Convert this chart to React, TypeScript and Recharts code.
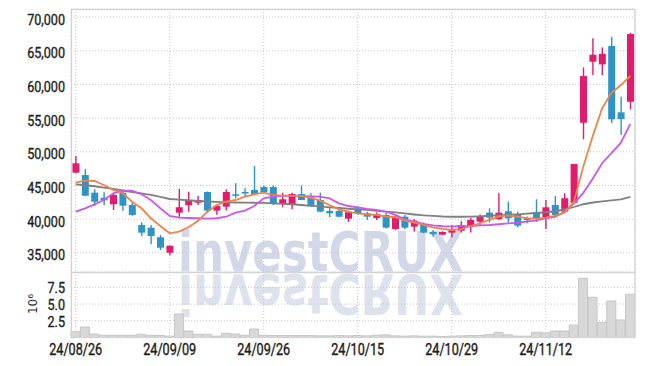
import { ComposedChart, BarChart, Bar, Line, XAxis, YAxis, CartesianGrid } from 'recharts'

// trading days (yy/mm/dd)
const dates = [
  '24/08/26', '24/08/27', '24/08/28', '24/08/29', '24/08/30', '24/09/02', '24/09/03', '24/09/04', '24/09/05', '24/09/06',
  '24/09/09', '24/09/10', '24/09/11', '24/09/12', '24/09/13', '24/09/19', '24/09/20', '24/09/23', '24/09/24', '24/09/25',
  '24/09/26', '24/09/27', '24/09/30', '24/10/02', '24/10/04', '24/10/07', '24/10/08', '24/10/10', '24/10/11', '24/10/14',
  '24/10/15', '24/10/16', '24/10/17', '24/10/18', '24/10/21', '24/10/22', '24/10/23', '24/10/24', '24/10/25', '24/10/28',
  '24/10/29', '24/10/30', '24/10/31', '24/11/01', '24/11/04', '24/11/05', '24/11/06', '24/11/07', '24/11/08', '24/11/11',
  '24/11/12', '24/11/13', '24/11/14', '24/11/15', '24/11/18', '24/11/19', '24/11/20', '24/11/21', '24/11/22', '24/11/25',
]

const opens = [
  46900, 46550, 43930, 43180, 42200, 43930, 42100, 39130, 38730, 37310,
  35020, 40960, 42060, 42440, 44030, 41260, 41850, 43690, 44030, 44330,
  44770, 44770, 42230, 42100, 43730, 43240, 42840, 41210, 41210, 40070,
  41610, 40870, 40170, 40620, 38540, 40360, 38880, 39130, 38090, 37700,
  37990, 38290, 38880, 39620, 40960, 39980, 41170, 40720, 40100, 41060,
  40220, 42100, 41110, 42440, 54310, 63370, 62980, 65700, 55860, 57430,
]
const highs = [
  49370, 47400, 44430, 43990, 43800, 44330, 42440, 39530, 39130, 37650,
  36100, 44520, 44070, 43440, 44100, 42100, 44430, 45320, 44580, 47890,
  45000, 45000, 43930, 43930, 44980, 43840, 43930, 41600, 41400, 41250,
  41900, 41100, 41000, 40900, 40600, 40600, 40000, 39500, 38400, 38200,
  39100, 39700, 40200, 40700, 41610, 43840, 42590, 41100, 40400, 42950,
  42840, 43440, 43840, 48200, 62540, 66840, 65500, 67080, 58170, 67670,
]
const lows = [
  46800, 43400, 41950, 42100, 41360, 41250, 40500, 37500, 36270, 35420,
  34640, 40280, 41110, 42100, 40900, 40650, 41300, 43100, 43340, 43590,
  43900, 42100, 41760, 41460, 42800, 41850, 41020, 40280, 40280, 39580,
  40600, 39880, 39880, 38600, 38400, 38500, 38140, 37900, 37400, 37600,
  37300, 38000, 38000, 39000, 39500, 39900, 39500, 38800, 39400, 39600,
  38540, 40400, 40950, 42300, 51850, 61390, 61390, 54230, 52490, 56300,
]
const closes = [
  48290, 43480, 42590, 42800, 43590, 42000, 40620, 37990, 37500, 35760,
  36060, 41760, 42740, 42840, 41260, 41950, 44030, 43540, 43880, 43730,
  43990, 42230, 42950, 43730, 42840, 42060, 41110, 40870, 40360, 41020,
  40810, 40360, 40720, 38730, 40360, 38730, 39770, 37990, 37750, 38090,
  38540, 39130, 39880, 40470, 40220, 40960, 40130, 39030, 39830, 40130,
  41760, 40620, 43100, 48190, 61240, 64410, 64550, 54820, 54860, 67480,
]

const ma5 = [
  45410, 45710, 45660, 45070, 44330, 43840, 42590, 41610, 40130, 38980,
  37900, 38140, 38790, 39730, 41110, 42100, 42590, 42840, 43330, 43660,
  43930, 43590, 43480, 43480, 43440, 43140, 42740, 42100, 41460, 41110,
  40870, 40720, 40620, 40390, 40280, 39770, 39480, 39130, 38790, 38540,
  38390, 38500, 38980, 39390, 39880, 40360, 40570, 40360, 40130, 40070,
  40220, 40470, 40960, 42590, 47800, 52300, 56450, 58770, 59910, 61250,
]
const ma10 = [
  41110, 41610, 42200, 42840, 43840, 44220, 44220, 43690, 42840, 41610,
  40470, 40220, 40170, 40130, 40070, 40130, 40360, 40960, 41260, 41950,
  43100, 43330, 43440, 43440, 43440, 43390, 43330, 43100, 42350, 41950,
  41760, 41510, 41360, 41110, 40620, 39980, 39620, 39280, 39060, 38940,
  38910, 38940, 38980, 39060, 39130, 39240, 39360, 39480, 39620, 39830,
  40100, 40320, 41110, 42300, 43900, 46000, 48300, 49800, 51350, 54150,
]
const ma60 = [
  45170, 45030, 44880, 44670, 44480, 44250, 44030, 43810, 43590, 43290,
  42990, 42890, 42800, 42690, 42620, 42550, 42500, 42470, 42440, 42430,
  42400, 42350, 42280, 42210, 42100, 41980, 41880, 41760, 41660, 41540,
  41460, 41360, 41240, 41110, 40990, 40840, 40690, 40570, 40470, 40390,
  40350, 40350, 40360, 40420, 40500, 40570, 40650, 40720, 40810, 40910,
  41020, 41170, 41430, 41800, 42210, 42470, 42650, 42770, 42920, 43290,
]

// volume, millions of shares
const volumes = [
  0.87, 1.57, 0.52, 0.33, 0.33, 0.33, 0.33, 0.48, 0.33, 0.3,
  0.2, 3.52, 0.97, 0.48, 0.48, 0.2, 0.63, 0.52, 0.33, 1.27,
  0.33, 0.3, 0.3, 0.3, 0.3, 0.3, 0.25, 0.25, 0.3, 0.25,
  0.3, 0.25, 0.35, 0.4, 0.25, 0.2, 0.25, 0.2, 0.2, 0.15,
  0.2, 0.25, 0.3, 0.3, 0.45, 0.78, 0.4, 0.2, 0.2, 0.78,
  0.7, 0.97, 0.97, 1.87, 8.86, 6.02, 2.27, 5.46, 2.62, 6.47,
]

const priceTicks = [35000, 40000, 45000, 50000, 55000, 60000, 65000, 70000]
const volTicks = [2.5, 5, 7.5]

const UP = '#e21b6c'
const DOWN = '#2e94c7'
const FONT = "Roboto, 'Liberation Sans', sans-serif"

const rows = dates.map((date, i) => ({
  date,
  open: opens[i],
  high: highs[i],
  low: lows[i],
  close: closes[i],
  ma5: ma5[i],
  ma10: ma10[i],
  ma60: ma60[i],
  vol: volumes[i],
}))

function Candle(props: any) {
  const { x, y, width, height, payload } = props
  if (!payload) return null
  const { open, close, high, low } = payload
  const color = close >= open ? UP : DOWN
  const top = Math.min(y, y + height)
  const h = Math.abs(height)
  const k = h / (high - low || 1)
  const yOf = (v: number) => top + (high - v) * k
  const bTop = yOf(Math.max(open, close))
  const bBot = yOf(Math.min(open, close))
  const cx = x + width / 2
  return (
    <g>
      <line x1={cx} x2={cx} y1={top} y2={top + h} stroke={color} strokeWidth={1.4} />
      <rect x={x} y={bTop} width={width} height={Math.max(1.5, bBot - bTop)} fill={color} />
    </g>
  )
}

// narrow-looking tick labels (squeezed horizontally)
function YTick({ x, y, payload, text, dy }: any) {
  return (
    <text transform={`translate(${x},${y + dy}) scale(0.9,1)`} textAnchor="end" fontFamily={FONT} fontSize={14}
      fill="#1e1e1e" stroke="#1e1e1e" strokeWidth={0.35}>
      {text(payload.value)}
    </text>
  )
}

function XTick({ x, y, payload }: any) {
  return (
    <text transform={`translate(${x},${y + 17}) scale(0.79,1)`} textAnchor="middle" fontFamily={FONT} fontSize={16}
      fill="#1e1e1e" stroke="#1e1e1e" strokeWidth={0.4}>
      {payload.value}
    </text>
  )
}

const fmt = (v: number) => v.toLocaleString('en-US')

export default function App() {
  return (
    <div style={{ position: 'absolute', left: 0, top: 0, width: 645, height: 366, background: '#fff' }}>
      {/* watermark */}
      <svg width={645} height={366} style={{ position: 'absolute', left: 0, top: 0 }}>
        <text x={178} y={271} fontFamily="'DejaVu Sans', sans-serif" fontWeight="bold" fontSize={55}
          textLength={285} lengthAdjust="spacingAndGlyphs" fill="#d2d8e8">investCRUX</text>
        <text x={178} y={271} fontFamily="'DejaVu Sans', sans-serif" fontWeight="bold" fontSize={55}
          textLength={285} lengthAdjust="spacingAndGlyphs" fill="#dee2ec" transform="translate(0 546) scale(1 -1)">investCRUX</text>
      </svg>

      <div style={{ position: 'absolute', left: 0, top: 0 }}>
        <ComposedChart width={645} height={273} data={rows} margin={{ top: 9, right: 10, bottom: 1, left: 0 }} barCategoryGap="15%">
          <CartesianGrid stroke="#c3c6d2" strokeDasharray="1 2" />
          <XAxis dataKey="date" hide interval={9} />
          <YAxis
            width={71}
            domain={[32150, 71200]}
            allowDataOverflow
            ticks={priceTicks}
            interval={0}
            axisLine={false}
            tickLine={false}
            tickSize={0}
            tickMargin={6}
            tick={(p: any) => <YTick {...p} text={fmt} dy={7.5} />}
          />
          <Bar dataKey={(d: any) => [d.low, d.high]} shape={(p: any) => <Candle {...p} />} isAnimationActive={false} />
          <Line dataKey="ma60" stroke="#808080" strokeWidth={1.8} dot={false} isAnimationActive={false} />
          <Line dataKey="ma10" stroke="#cc58ea" strokeWidth={1.8} dot={false} isAnimationActive={false} />
          <Line dataKey="ma5" stroke="#ee8448" strokeWidth={1.8} dot={false} isAnimationActive={false} />
        </ComposedChart>
      </div>

      <div style={{ position: 'absolute', left: 0, top: 272 }}>
        <BarChart width={645} height={94} data={rows} margin={{ top: 0, right: 10, bottom: 0, left: 0 }} barCategoryGap={0}>
          <CartesianGrid stroke="#c3c6d2" strokeDasharray="1 2" />
          <XAxis
            dataKey="date"
            interval={9}
            height={28.5}
            axisLine={{ stroke: '#d6d6d6' }}
            tickLine={false}
            tickSize={0}
            tickMargin={0}
            tick={(p: any) => <XTick {...p} />}
          />
          <YAxis
            width={71}
            domain={[0, 9.8]}
            ticks={volTicks}
            interval={0}
            axisLine={false}
            tickLine={false}
            tickSize={0}
            tickMargin={6}
            tick={(p: any) => <YTick {...p} text={(v: number) => v.toFixed(1)} dy={5.8} />}
          />
          <Bar dataKey="vol" fill="#d8d8d8" stroke="#c6c6c6" strokeWidth={1} isAnimationActive={false} />
        </BarChart>
      </div>

      {/* frame + unit label */}
      <svg width={645} height={366} style={{ position: 'absolute', left: 0, top: 0, pointerEvents: 'none' }}>
        <rect x={71.5} y={9.5} width={563.5} height={328} fill="none" stroke="#d3d3d6" strokeWidth={1.3} />
        <line x1={71.5} x2={635} y1={272.5} y2={272.5} stroke="#d3d3d6" strokeWidth={1.3} />
        <text x={33} y={304} transform="rotate(-90 33 304)" textAnchor="middle" dominantBaseline="central"
          fontFamily="'DejaVu Sans', sans-serif" fontSize={12} fill="#333">10⁶</text>
      </svg>
    </div>
  )
}
